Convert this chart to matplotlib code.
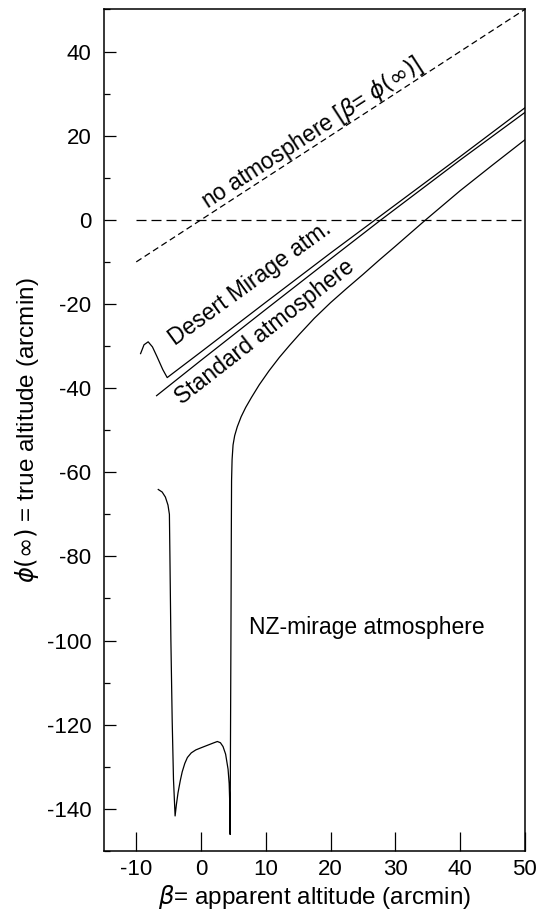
import matplotlib
matplotlib.use("Agg")
import matplotlib.pyplot as plt
from matplotlib.ticker import MultipleLocator

plt.rcParams['font.family'] = ['Liberation Sans', 'DejaVu Sans']
plt.rcParams['axes.unicode_minus'] = False

# no atmosphere: true = apparent
beta_none = [-10, 50]
phi_none = [-10, 50]

# horizontal reference at zero
beta_zero = [-10, 50]
phi_zero = [0, 0]

# standard atmosphere
beta_std = [-6.86, 0, 10, 20, 27.8, 40, 50]
phi_std = [-41.8, -33.4, -21.3, -9.3, 0.0, 14.2, 25.5]

# desert mirage atmosphere
beta_des = [-9.33, -8.8, -8.16, -7.5, -6.8, -5.9, -5.22, 0, 10, 20, 26.9, 40, 50]
phi_des = [-31.8, -29.7, -29.0, -30.2, -32.5, -35.6, -37.5, -31.4, -19.6, -7.9, 0.0, 15.0, 26.6]

# NZ-mirage atmosphere (one folded curve)
beta_nz = [-6.6, -6.0, -5.5, -5.1, -4.88, -4.8, -4.65, -4.45, -4.25, -4.0,
           -3.8, -3.55, -3.2, -2.9, -2.5, -2.1, -1.5, -0.8, 0.0, 1.0, 2.0, 2.53,
           3.0, 3.4, 3.8, 4.18, 4.35, 4.44, 4.5,
           4.55, 4.62, 4.68, 4.72, 4.8, 4.95, 5.2, 5.6, 6.2, 6.9, 7.8, 9.0, 10.5,
           12.1, 13.7, 15.2, 17.5, 20, 22.5, 25, 27.5, 30, 34.7, 40, 45, 50]
phi_nz = [-64.1, -64.7, -65.9, -67.8, -70.0, -80, -100, -119, -133, -141.7,
          -139.0, -136.2, -133.3, -131.2, -129.2, -127.8, -126.7, -126.0, -125.5, -124.9, -124.3, -124.0,
          -124.3, -125.2, -127.0, -130.6, -134.0, -138.6, -146.1,
          -125, -100, -75, -62, -57, -53.5, -51.3, -49.2, -46.8, -44.6, -42.2, -39.2, -35.9,
          -32.7, -29.8, -27.2, -23.4, -19.7, -16.3, -13.0, -9.6, -6.3, 0.0, 6.9, 13.0, 19.0]

fig = plt.figure(figsize=(5.41, 9.11), dpi=100)
ax = fig.add_axes([0.192, 0.066, 0.778, 0.9236])

lw = 0.9
ax.plot(beta_none, phi_none, color='black', lw=lw, linestyle=(0, (5, 3)))
ax.plot(beta_zero, phi_zero, color='black', lw=lw, linestyle=(0, (8, 4)))
ax.plot(beta_std, phi_std, color='black', lw=lw)
ax.plot(beta_des, phi_des, color='black', lw=lw)
ax.plot(beta_nz, phi_nz, color='black', lw=lw)

ax.set_xlim(-15, 50)
ax.set_ylim(-150, 50)
ax.yaxis.set_major_locator(MultipleLocator(20))
ax.yaxis.set_minor_locator(MultipleLocator(10))
ax.set_xticks([-10, 0, 10, 20, 30, 40, 50])

ax.tick_params(axis='x', direction='in', length=14, width=0.9, pad=6, labelsize=16)
ax.tick_params(axis='y', direction='in', length=8.6, width=0.9, pad=9, labelsize=16)
ax.tick_params(axis='y', which='minor', direction='in', length=4.3, width=0.9)
for s in ax.spines.values():
    s.set_linewidth(1.1)

ax.set_xlabel(r'$\beta$= apparent altitude (arcmin)', fontsize=17.5, labelpad=2)
ax.set_ylabel(r'$\phi(\infty)$ = true altitude (arcmin)', fontsize=17.5, labelpad=4)

ax.text(17.2, 20.6, r'no atmosphere [$\beta$= $\phi(\infty)$]', fontsize=16.5,
        rotation=33, ha='center', va='center', rotation_mode='anchor')
ax.text(7.5, -15.2, 'Desert Mirage atm.', fontsize=16.5,
        rotation=36, ha='center', va='center', rotation_mode='anchor')
ax.text(9.9, -26.6, 'Standard atmosphere', fontsize=16.5,
        rotation=38, ha='center', va='center', rotation_mode='anchor')
ax.text(25.6, -96.9, 'NZ-mirage atmosphere', fontsize=16.5,
        ha='center', va='center')

fig.savefig('out.png', dpi=100)
